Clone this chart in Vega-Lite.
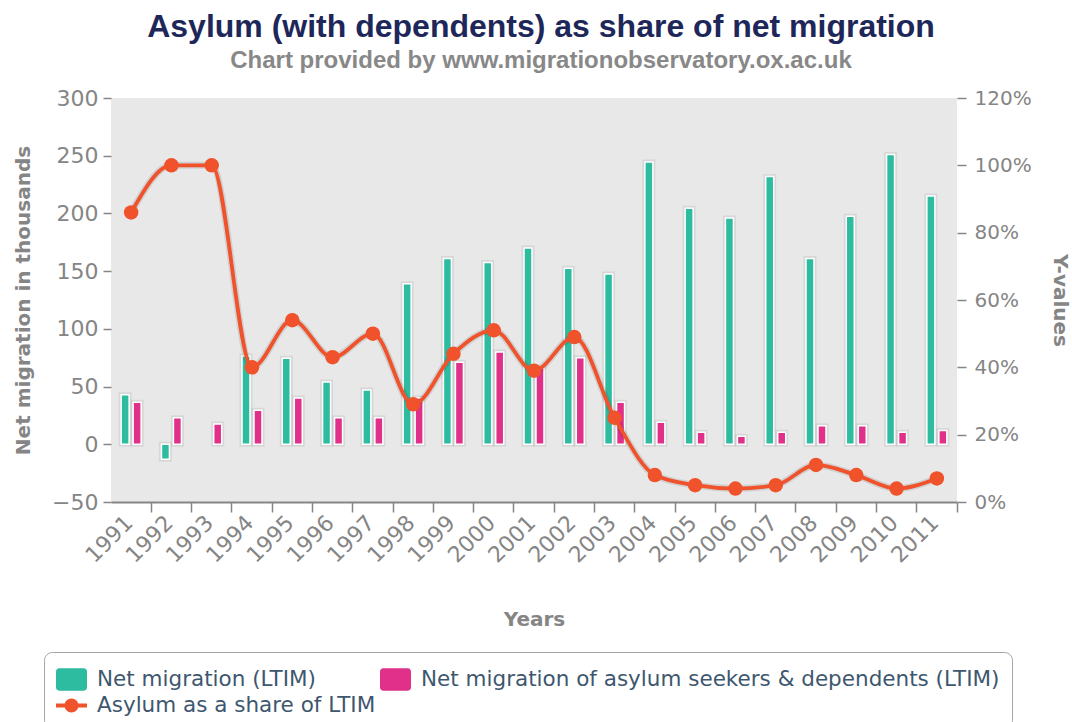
{
  "$schema": "https://vega.github.io/schema/vega-lite/v6.json",
  "width": 846,
  "height": 404,
  "autosize": {"type": "none"},
  "padding": {"left": 111, "top": 98, "right": 115, "bottom": 220},
  "background": "#ffffff",
  "config": {
    "view": {"fill": "#e8e8e8", "stroke": null},
    "axis": {
      "labelFont": "DejaVu Sans",
      "labelFontSize": 22,
      "labelColor": "#858585",
      "titleFont": "DejaVu Sans",
      "titleFontSize": 20,
      "titleFontWeight": "bold",
      "titleColor": "#858585",
      "tickColor": "#858585",
      "domainColor": "#858585",
      "grid": false
    }
  },
  "title": {
    "text": "Asylum (with dependents) as share of net migration",
    "subtitle": "Chart provided by www.migrationobservatory.ox.ac.uk",
    "font": "Liberation Sans",
    "fontSize": 32,
    "fontWeight": "bold",
    "color": "#1e2759",
    "subtitleFont": "Liberation Sans",
    "subtitleFontSize": 24,
    "subtitleFontWeight": "bold",
    "subtitleColor": "#888888",
    "subtitlePadding": 5,
    "anchor": "middle",
    "dx": 7,
    "offset": 13
  },
  "datasets": {
    "migration": [
      {"year": "1991", "series": "Net migration (LTIM)", "value": 43},
      {"year": "1991", "series": "Net migration of asylum seekers & dependents (LTIM)", "value": 36.5},
      {"year": "1992", "series": "Net migration (LTIM)", "value": -13},
      {"year": "1992", "series": "Net migration of asylum seekers & dependents (LTIM)", "value": 23},
      {"year": "1993", "series": "Net migration of asylum seekers & dependents (LTIM)", "value": 17.5},
      {"year": "1994", "series": "Net migration (LTIM)", "value": 76.5},
      {"year": "1994", "series": "Net migration of asylum seekers & dependents (LTIM)", "value": 29.5},
      {"year": "1995", "series": "Net migration (LTIM)", "value": 74.5},
      {"year": "1995", "series": "Net migration of asylum seekers & dependents (LTIM)", "value": 40},
      {"year": "1996", "series": "Net migration (LTIM)", "value": 54},
      {"year": "1996", "series": "Net migration of asylum seekers & dependents (LTIM)", "value": 23},
      {"year": "1997", "series": "Net migration (LTIM)", "value": 47},
      {"year": "1997", "series": "Net migration of asylum seekers & dependents (LTIM)", "value": 23},
      {"year": "1998", "series": "Net migration (LTIM)", "value": 139},
      {"year": "1998", "series": "Net migration of asylum seekers & dependents (LTIM)", "value": 40},
      {"year": "1999", "series": "Net migration (LTIM)", "value": 161},
      {"year": "1999", "series": "Net migration of asylum seekers & dependents (LTIM)", "value": 71},
      {"year": "2000", "series": "Net migration (LTIM)", "value": 157.5},
      {"year": "2000", "series": "Net migration of asylum seekers & dependents (LTIM)", "value": 80},
      {"year": "2001", "series": "Net migration (LTIM)", "value": 170},
      {"year": "2001", "series": "Net migration of asylum seekers & dependents (LTIM)", "value": 66},
      {"year": "2002", "series": "Net migration (LTIM)", "value": 152.5},
      {"year": "2002", "series": "Net migration of asylum seekers & dependents (LTIM)", "value": 75},
      {"year": "2003", "series": "Net migration (LTIM)", "value": 147.5},
      {"year": "2003", "series": "Net migration of asylum seekers & dependents (LTIM)", "value": 36.5},
      {"year": "2004", "series": "Net migration (LTIM)", "value": 244.5},
      {"year": "2004", "series": "Net migration of asylum seekers & dependents (LTIM)", "value": 19},
      {"year": "2005", "series": "Net migration (LTIM)", "value": 204.5},
      {"year": "2005", "series": "Net migration of asylum seekers & dependents (LTIM)", "value": 10.5},
      {"year": "2006", "series": "Net migration (LTIM)", "value": 196},
      {"year": "2006", "series": "Net migration of asylum seekers & dependents (LTIM)", "value": 7},
      {"year": "2007", "series": "Net migration (LTIM)", "value": 232},
      {"year": "2007", "series": "Net migration of asylum seekers & dependents (LTIM)", "value": 10.5},
      {"year": "2008", "series": "Net migration (LTIM)", "value": 161},
      {"year": "2008", "series": "Net migration of asylum seekers & dependents (LTIM)", "value": 16},
      {"year": "2009", "series": "Net migration (LTIM)", "value": 197.5},
      {"year": "2009", "series": "Net migration of asylum seekers & dependents (LTIM)", "value": 16},
      {"year": "2010", "series": "Net migration (LTIM)", "value": 251},
      {"year": "2010", "series": "Net migration of asylum seekers & dependents (LTIM)", "value": 10.5},
      {"year": "2011", "series": "Net migration (LTIM)", "value": 215},
      {"year": "2011", "series": "Net migration of asylum seekers & dependents (LTIM)", "value": 12}
    ],
    "share": [
      {"year": "1991", "share": 0.86},
      {"year": "1992", "share": 1.0},
      {"year": "1993", "share": 1.0},
      {"year": "1994", "share": 0.40},
      {"year": "1995", "share": 0.54},
      {"year": "1996", "share": 0.43},
      {"year": "1997", "share": 0.50},
      {"year": "1998", "share": 0.29},
      {"year": "1999", "share": 0.44},
      {"year": "2000", "share": 0.51},
      {"year": "2001", "share": 0.39},
      {"year": "2002", "share": 0.49},
      {"year": "2003", "share": 0.25},
      {"year": "2004", "share": 0.08},
      {"year": "2005", "share": 0.05},
      {"year": "2006", "share": 0.04},
      {"year": "2007", "share": 0.05},
      {"year": "2008", "share": 0.11},
      {"year": "2009", "share": 0.08},
      {"year": "2010", "share": 0.04},
      {"year": "2011", "share": 0.07}
    ]
  },
  "layer": [
    {
      "data": {"name": "migration"},
      "encoding": {
        "x": {
          "field": "year",
          "type": "ordinal",
          "title": "Years",
          "scale": {"paddingInner": 0, "paddingOuter": 0},
          "axis": {
            "bandPosition": 1,
            "domainWidth": 2,
            "tickSize": 10,
            "tickWidth": 1.5,
            "labelAngle": -45,
            "labelAlign": "right",
            "labelBaseline": "middle",
            "labelOffset": -2,
            "labelPadding": 7,
            "labelOverlap": false,
            "titlePadding": 43
          }
        },
        "xOffset": {
          "field": "series",
          "type": "nominal",
          "scale": {
            "domain": ["Net migration (LTIM)", "Net migration of asylum seekers & dependents (LTIM)"],
            "paddingInner": 0.333,
            "paddingOuter": 0.846
          }
        },
        "y": {
          "field": "value",
          "type": "quantitative",
          "title": "Net migration in thousands",
          "scale": {"domain": [-50, 300], "nice": false, "zero": false},
          "axis": {
            "orient": "left",
            "values": [-50, 0, 50, 100, 150, 200, 250, 300],
            "domain": false,
            "tickSize": 8,
            "tickWidth": 1.5,
            "labelPadding": 5,
            "titlePadding": 18
          }
        }
      },
      "layer": [
        {
          "mark": {
            "type": "bar",
            "color": "#000000",
            "fillOpacity": 0.08,
            "stroke": "#000000",
            "strokeOpacity": 0.07,
            "strokeWidth": 5
          }
        },
        {
          "mark": {"type": "bar", "stroke": "#ffffff", "strokeWidth": 1.5},
          "encoding": {
            "color": {
              "field": "series",
              "type": "nominal",
              "scale": {
                "domain": [
                  "Net migration (LTIM)",
                  "Net migration of asylum seekers & dependents (LTIM)",
                  "Asylum as a share of LTIM"
                ],
                "range": ["#2dbca0", "#e0308a", "#f0522b"]
              },
              "legend": {
                "title": null,
                "orient": "none",
                "legendX": -67,
                "legendY": 554,
                "direction": "horizontal",
                "columns": 2,
                "gridAlign": "none",
                "columnPadding": 4,
                "rowPadding": -1,
                "padding": 12,
                "strokeColor": "#a6a6a6",
                "cornerRadius": 8,
                "fillColor": "#ffffff",
                "symbolSize": 961,
                "symbolStrokeWidth": 0,
                "symbolOpacity": 1,
                "symbolType": {
                  "expr": "datum.value === 'Asylum as a share of LTIM' ? 'M-1,-0.13H1V0.13H-1Z M0.45,0A0.45,0.45 0 1,1 -0.45,0A0.45,0.45 0 1,1 0.45,0Z' : 'M-0.8,-0.72H0.8A0.2,0.2 0 0,1 1,-0.52V0.52A0.2,0.2 0 0,1 0.8,0.72H-0.8A0.2,0.2 0 0,1 -1,0.52V-0.52A0.2,0.2 0 0,1 -0.8,-0.72Z'"
                },
                "labelFont": "DejaVu Sans",
                "labelFontSize": 21.5,
                "labelColor": "#3e576f",
                "labelOffset": 10,
                "labelLimit": 800,
                "encode": {
                  "legend": {"update": {"strokeWidth": {"value": 1.5}, "width": {"value": 979}}},
                  "symbols": {
                    "update": {
                      "fill": {"signal": "scale('color', datum.value)"},
                      "strokeWidth": {"value": 0},
                      "opacity": {"value": 1}
                    }
                  }
                }
              }
            }
          }
        }
      ]
    },
    {
      "data": {"name": "share"},
      "encoding": {
        "x": {"field": "year", "type": "ordinal"},
        "y": {
          "field": "share",
          "type": "quantitative",
          "title": "Y-values",
          "scale": {"domain": [0, 1.2], "nice": false},
          "axis": {
            "orient": "right",
            "values": [0, 0.2, 0.4, 0.6, 0.8, 1.0, 1.2],
            "format": ".0%",
            "domain": false,
            "tickSize": 9,
            "tickWidth": 1.5,
            "labelPadding": 8,
            "labelFontSize": 20,
            "titlePadding": 18
          }
        }
      },
      "layer": [
        {
          "mark": {
            "type": "line",
            "interpolate": "monotone",
            "stroke": "#000000",
            "strokeOpacity": 0.1,
            "strokeWidth": 7
          }
        },
        {
          "mark": {"type": "line", "interpolate": "monotone", "color": "#f0522b", "strokeWidth": 3.8}
        },
        {
          "mark": {"type": "point", "shape": "circle", "filled": true, "opacity": 1, "size": 210, "color": "#f0522b"}
        }
      ]
    }
  ],
  "resolve": {"scale": {"y": "independent"}, "axis": {"y": "independent"}}
}
